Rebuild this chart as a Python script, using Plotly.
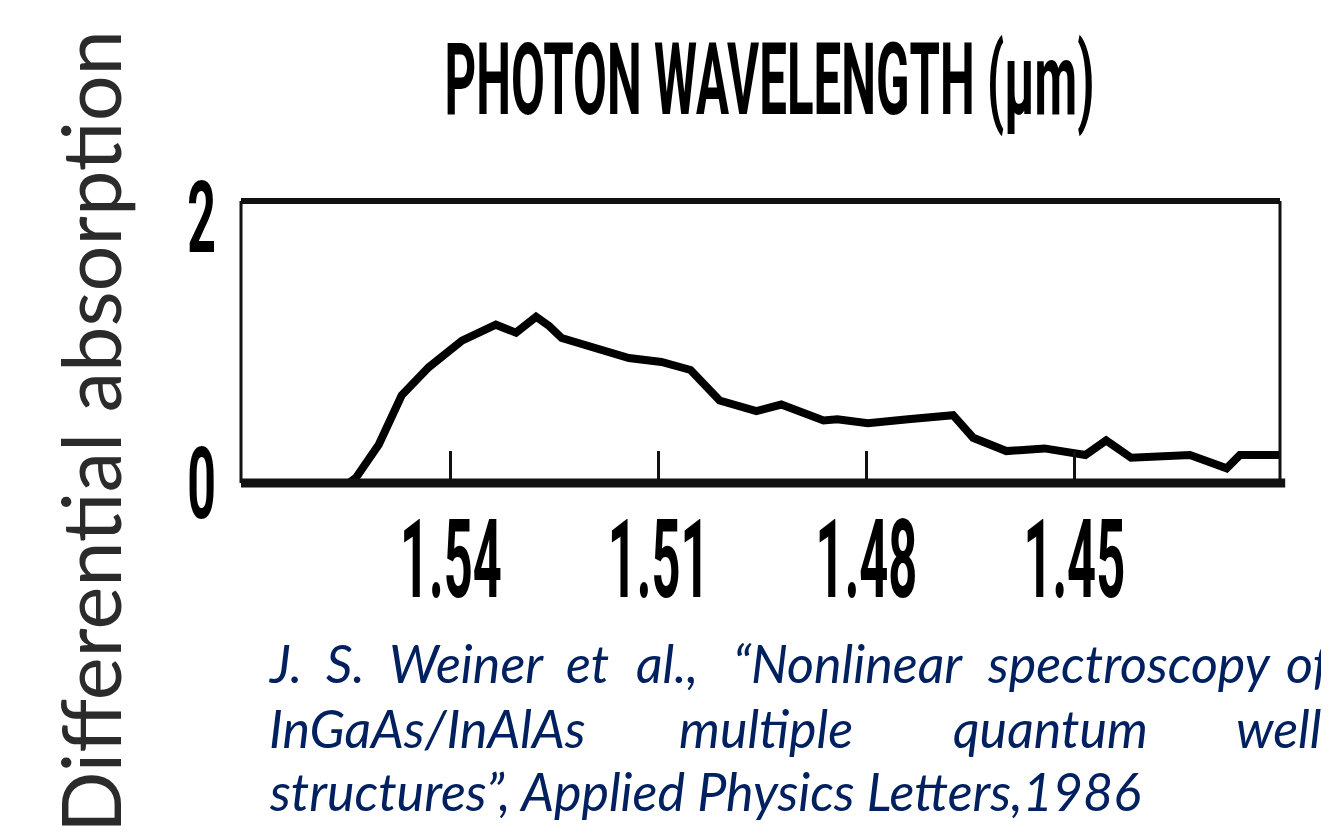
import plotly.graph_objects as go

# photon wavelength (um) and differential absorption
wavelength = [1.5547, 1.5537, 1.5504, 1.5471, 1.5432, 1.5384, 1.5335, 1.5306,
              1.5277, 1.5258, 1.5240, 1.5191, 1.5143, 1.5096, 1.5054, 1.5012,
              1.4959, 1.4923, 1.4862, 1.4842, 1.4798, 1.4740, 1.4675, 1.4646,
              1.4598, 1.4543, 1.4484, 1.4454, 1.4418, 1.4333, 1.4280, 1.4261,
              1.4203]
absorption = [0.00, 0.04, 0.29, 0.66, 0.87, 1.07, 1.19, 1.13,
              1.25, 1.18, 1.09, 1.02, 0.94, 0.91, 0.85, 0.62,
              0.54, 0.59, 0.47, 0.48, 0.45, 0.48, 0.51, 0.34,
              0.24, 0.26, 0.21, 0.32, 0.19, 0.21, 0.11, 0.21,
              0.21]

x_ticks = [1.54, 1.51, 1.48, 1.45]
x_tick_text = ["1.54", "1.51", "1.48", "1.45"]
y_ticks = [0, 2]
y_tick_text = ["0", "2"]

title_text = "PHOTON WAVELENGTH (μm)"
y_label = "Differential absorption"
citation_lines = [
    ["J.", "S.", "Weiner", "et", "al.,", "“Nonlinear", "spectroscopy", "of"],
    ["InGaAs/InAlAs", "multiple", "quantum", "well"],
    ["structures”, Applied Physics Letters,1986"],
]

scan_font = "Roboto, sans-serif"
slide_font = "Lato, sans-serif"
navy = "#002060"

fig = go.Figure()
fig.add_trace(
    go.Scatter(
        x=wavelength,
        y=absorption,
        mode="lines",
        line=dict(color="black", width=8),
        showlegend=False,
    )
)

# frame of the scanned plot, sides have different weights
fig.add_shape(type="line", xref="paper", yref="paper", x0=0, x1=1, y0=1.06, y1=1.06,
              line=dict(color="#111", width=6))
fig.add_shape(type="line", xref="paper", yref="paper", x0=0, x1=0, y0=0, y1=1.06,
              line=dict(color="#111", width=3))
fig.add_shape(type="line", xref="paper", yref="paper", x0=1, x1=1, y0=0, y1=1.06,
              line=dict(color="#111", width=3))
fig.add_shape(type="line", xref="paper", yref="paper", x0=0, x1=1.005, y0=0, y1=0,
              line=dict(color="#111", width=9))

fig.add_annotation(text=title_text, xref="paper", yref="paper", x=0.509, y=1.0,
                   yshift=138, xanchor="center", yanchor="middle", showarrow=False,
                   font=dict(family=scan_font, size=100, color="black", weight="bold"))

fig.add_annotation(text=y_label, xref="paper", yref="paper", x=0, y=0.5,
                   xshift=-152, yshift=-82, textangle=-90, showarrow=False,
                   xanchor="center", yanchor="middle",
                   font=dict(family=slide_font, size=81, color="#2b2b2b"))

# citation, justified word by word like the slide text box
word_x = [
    [263, 320, 383, 560, 630, 727, 981, 1280],
    [263, 673, 947, 1230],
    [263],
]
line_y = [655, 720, 783]
for words, xs, y in zip(citation_lines, word_x, line_y):
    for w, x in zip(words, xs):
        fig.add_annotation(text=w, xref="paper", yref="paper",
                           x=(x - 233) / 1039, y=(475 - y) / 266,
                           xanchor="left", yanchor="middle", showarrow=False,
                           xshift=-4,
                           font=dict(family=slide_font, size=52, color=navy,
                                     style="italic"))

fig.update_layout(
    width=1329,
    height=837,
    autosize=False,
    margin=dict(l=233, r=57, t=209, b=362),
    paper_bgcolor="white",
    plot_bgcolor="white",
    xaxis=dict(
        range=[1.5703, 1.4203],
        tickvals=x_ticks,
        ticktext=x_tick_text,
        tickangle=0,
        ticks="inside",
        ticklen=32,
        tickwidth=3,
        tickcolor="#111",
        ticklabelstandoff=3,
        showgrid=False,
        zeroline=False,
        showline=False,
        tickfont=dict(family=scan_font, size=110, color="black", weight="bold"),
    ),
    yaxis=dict(
        range=[0, 2.0],
        tickvals=y_ticks,
        ticktext=y_tick_text,
        ticks="inside",
        ticklen=30,
        tickwidth=5,
        tickcolor="#111",
        ticklabelstandoff=24,
        showgrid=False,
        zeroline=False,
        showline=False,
        tickfont=dict(family=scan_font, size=100, color="black", weight="bold"),
    ),
)

# the scanned lettering is very condensed: squeeze those texts sideways
squeeze_js = """
var gd = document.getElementById('{plot_id}');
function squeeze(el, s, anchor) {
  var b = el.getBBox();
  var cx = anchor === 'end' ? b.x + b.width : b.x + b.width / 2;
  var t = el.getAttribute('transform') || '';
  el.setAttribute('transform', t + ' translate(' + cx + ',0) scale(' + s + ',1) translate(' + (-cx) + ',0)');
}
gd.querySelectorAll('.xtick text').forEach(function (el) { squeeze(el, 0.46, 'middle'); });
gd.querySelectorAll('.ytick text').forEach(function (el) { squeeze(el, 0.5, 'end'); });
gd.querySelectorAll('.annotation-text').forEach(function (el) {
  if (el.textContent.indexOf('PHOTON') === 0) { squeeze(el, 650 / el.getBBox().width, 'middle'); }
});
"""

fig.write_html("out.html", config={"responsive": False}, post_script=squeeze_js)
